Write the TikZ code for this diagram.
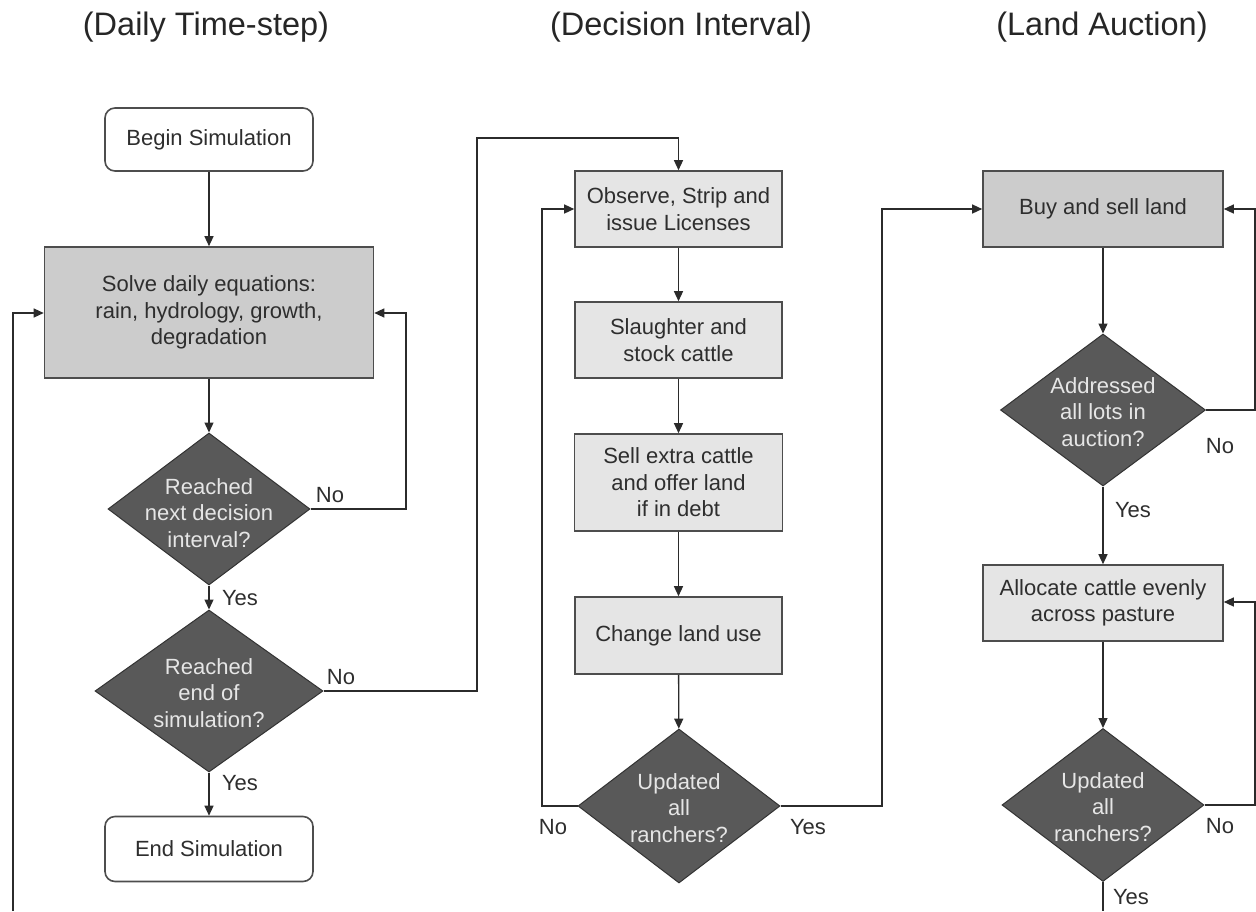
\documentclass[tikz,border=0pt]{standalone}
\usepackage{fontspec}
\setmainfont{Liberation Sans}
\usetikzlibrary{shapes.geometric,arrows.meta}
\definecolor{boxdark}{HTML}{CCCCCC}
\definecolor{boxlight}{HTML}{E5E5E5}
\definecolor{diafill}{HTML}{595959}
\definecolor{diatxt}{HTML}{E6E6E6}
\definecolor{edgecol}{HTML}{4D4D4D}
\definecolor{conncol}{HTML}{2B2B2B}
\definecolor{txtcol}{HTML}{2E2E2E}
\begin{document}
\begin{tikzpicture}[x=1pt,y=-1pt,
  every node/.style={font=\fontsize{22}{26.5}\selectfont, text=txtcol},
  box/.style={draw=edgecol, line width=1.6pt, align=center, inner sep=0pt, rectangle},
  darkbox/.style={box, fill=boxdark},
  lightbox/.style={box, fill=boxlight},
  termbox/.style={box, fill=white, rounded corners=10pt},
  dia/.style={shape=diamond, draw=black!80, line width=1pt, fill=diafill, inner sep=0pt, aspect=1.33},
  diatext/.style={align=center, text=diatxt, inner sep=0pt},
  heading/.style={font=\fontsize{32.5}{38}\selectfont, text=black!85},
  lbl/.style={inner sep=0pt, text=txtcol},
  arr/.style={draw=conncol, line width=1.3pt, -{Triangle[length=10pt,width=9pt]}},
  ln/.style={draw=conncol, line width=1.3pt}
]
\useasboundingbox (0,0) rectangle (1256,911);

% headings
\node[heading] (h1) at (206,27) {(Daily Time-step)};
\node[heading] (h2) at (681,27) {(Decision Interval)};
\node[heading] (h3) at (1102,27) {(Land Auction)};

% left column
\node[termbox, minimum width=208pt, minimum height=63pt] (begin) at (209,139.5) {Begin Simulation};
\node[darkbox, minimum width=329pt, minimum height=131pt] (solve) at (209,312.5) {Solve daily equations:\\rain, hydrology, growth,\\degradation};
\node[dia, minimum width=202pt, minimum height=152pt] (d1) at (209,509) {};
\node[diatext] (d1t) at (209,513) {Reached\\next decision\\interval?};
\node[dia, minimum width=228pt, minimum height=162pt] (d2) at (209,691) {};
\node[diatext] (d2t) at (209,693) {Reached\\end of\\simulation?};
\node[termbox, minimum width=208pt, minimum height=65pt] (endb) at (209,849) {End Simulation};

% middle column
\node[lightbox, minimum width=207pt, minimum height=76pt] (obs) at (678.5,209) {Observe, Strip and\\issue Licenses};
\node[lightbox, minimum width=207pt, minimum height=76pt] (sla) at (678.5,340) {Slaughter and\\stock cattle};
\node[lightbox, minimum width=208pt, minimum height=97pt] (sel) at (678.5,482.5) {Sell extra cattle\\and offer land\\if in debt};
\node[lightbox, minimum width=207pt, minimum height=77pt] (chg) at (678.5,635.5) {Change land use};
\node[dia, minimum width=202pt, minimum height=154pt] (d3) at (679,806) {};
\node[diatext] (d3t) at (679,808) {Updated\\all\\ranchers?};

% right column
\node[darkbox, minimum width=240pt, minimum height=76pt] (buy) at (1103,209) {Buy and sell land};
\node[dia, minimum width=205pt, minimum height=152pt] (d4) at (1103,410) {};
\node[diatext] (d4t) at (1103,412) {Addressed\\all lots in\\auction?};
\node[lightbox, minimum width=240pt, minimum height=76pt] (alc) at (1103,603) {Allocate cattle evenly\\across pasture};
\node[dia, minimum width=202pt, minimum height=153pt] (d5) at (1103,805) {};
\node[diatext] (d5t) at (1103,807) {Updated\\all\\ranchers?};

% coordinates for free ends and bends
\coordinate (lb) at (13,911);
\coordinate (lt) at (13,313);
\coordinate (rt) at (406,313);
\coordinate (m1) at (477,138);
\coordinate (n1) at (542,209);
\coordinate (y1) at (882,209);
\coordinate (q1) at (1255,209);
\coordinate (q2) at (1255,602);
\coordinate (bb) at (1103,911);

% connectors left
\draw[arr] (begin) -- (solve);
\draw[arr] (solve) -- (d1);
\draw[arr] (d1) -- (d2);
\draw[arr] (d2) -- (endb);
\draw[arr] (d1.east) -| (rt) -- (rt -| solve.east);
\draw[arr] (lb) -- (lt) -- (lt -| solve.west);
\draw[arr] (d2.east) -| (m1) -| (obs.north);

% connectors middle
\draw[arr] (obs) -- (sla);
\draw[arr] (sla) -- (sel);
\draw[arr] (sel) -- (chg);
\draw[arr] (chg) -- (d3);
\draw[arr] (d3.west) -| (n1) -- (obs.west);
\draw[arr] (d3.east) -| (y1) -- (buy.west);

% connectors right
\draw[arr] (buy) -- (d4);
\draw[arr] (d4) -- (alc);
\draw[arr] (alc) -- (d5);
\draw[ln] (d5.south) -- (bb);
\draw[arr] (d4.east) -| (q1) -- (buy.east);
\draw[arr] (d5.east) -| (q2) -- (q2 -| alc.east);

% branch labels
\node[lbl] (l1) at (330,495) {No};
\node[lbl] (l2) at (240,598) {Yes};
\node[lbl] (l3) at (341,677) {No};
\node[lbl] (l4) at (240,783) {Yes};
\node[lbl] (l5) at (553,827) {No};
\node[lbl] (l6) at (808,827) {Yes};
\node[lbl] (l7) at (1220,446) {No};
\node[lbl] (l8) at (1133,510) {Yes};
\node[lbl] (l9) at (1220,826) {No};
\node[lbl] (l10) at (1131,897) {Yes};
\end{tikzpicture}
\end{document}
